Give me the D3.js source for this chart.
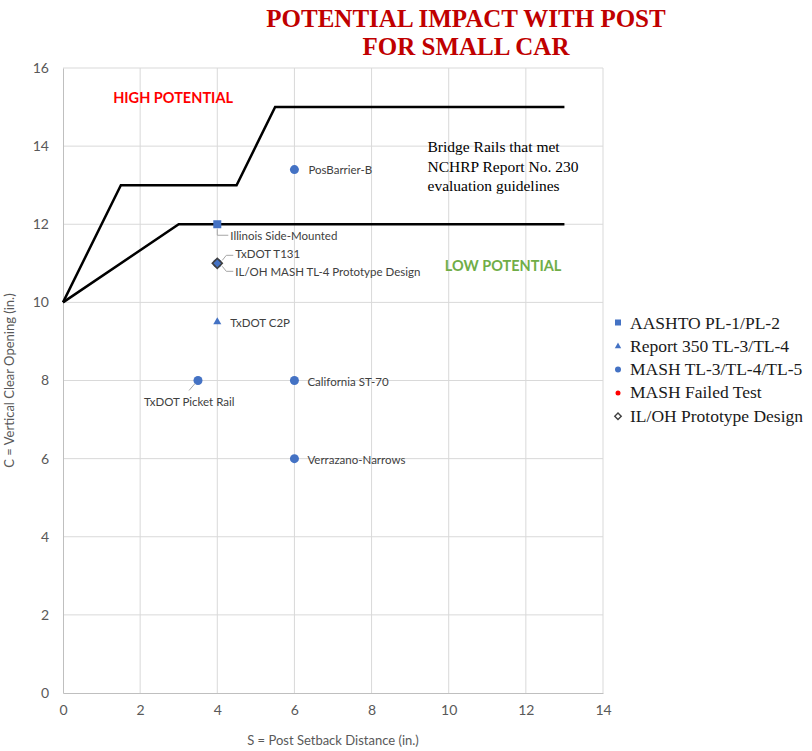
<!DOCTYPE html>
<html>
<head>
<meta charset="utf-8">
<script src="https://cdn.jsdelivr.net/npm/d3@7"></script>
<style>
  body { margin: 0; background: #fff; }
  text { font-family: Lato, "Open Sans", sans-serif; }
</style>
</head>
<body>
<div id="chart"></div>
<script>
// boundary lines
var upperLine = [[0, 10], [1.5, 13], [4.5, 13], [5.5, 15], [13, 15]];
var lowerLine = [[0, 10], [3, 12], [13, 12]];

// points per series
var aashto = [{x: 4, y: 12, label: "Illinois Side-Mounted"}];
var report350 = [{x: 4, y: 9.5, label: "TxDOT C2P"}];
var mash = [
  {x: 6, y: 13.4, label: "PosBarrier-B"},
  {x: 4, y: 11, label: "TxDOT T131"},
  {x: 3.5, y: 8, label: "TxDOT Picket Rail"},
  {x: 6, y: 8, label: "California ST-70"},
  {x: 6, y: 6, label: "Verrazano-Narrows"}
];
var mashFailed = [];
var prototype = [{x: 4, y: 11, label: "IL/OH MASH TL-4 Prototype Design"}];

var legendNames = ["AASHTO PL-1/PL-2", "Report 350 TL-3/TL-4", "MASH TL-3/TL-4/TL-5", "MASH Failed Test", "IL/OH Prototype Design"];
var xTicks = [0, 2, 4, 6, 8, 10, 12, 14];
var yTicks = [0, 2, 4, 6, 8, 10, 12, 14, 16];

var W = 812, H = 751;
var margin = {top: 68, right: 209, bottom: 58, left: 63};
var width = W - margin.left - margin.right;
var height = H - margin.top - margin.bottom;
var serif = "'Liberation Serif', 'Times New Roman', serif";

var svg = d3.select("#chart").append("svg").attr("width", W).attr("height", H);

svg.append("text").attr("x", 466).attr("y", 27).attr("text-anchor", "middle")
   .style("font-family", serif).style("font-weight", "bold")
   .style("font-size", "25px").style("fill", "#c00000").text("POTENTIAL IMPACT WITH POST");
svg.append("text").attr("x", 466).attr("y", 55).attr("text-anchor", "middle")
   .style("font-family", serif).style("font-weight", "bold")
   .style("font-size", "25px").style("fill", "#c00000").text("FOR SMALL CAR");

var g = svg.append("g").attr("transform", "translate(" + margin.left + "," + margin.top + ")");

var x = d3.scaleLinear().domain([0, 14]).range([0, width]);
var y = d3.scaleLinear().domain([0, 16]).range([height, 0]);

// grid
g.append("g").selectAll("line").data(xTicks.slice(1)).enter().append("line")
 .attr("x1", d => x(d)).attr("x2", d => x(d)).attr("y1", 0).attr("y2", height)
 .attr("stroke", "#d9d9d9").attr("stroke-width", 1);
g.append("g").selectAll("line").data(yTicks.slice(1)).enter().append("line")
 .attr("x1", 0).attr("x2", width).attr("y1", d => y(d)).attr("y2", d => y(d))
 .attr("stroke", "#d9d9d9").attr("stroke-width", 1);

var xAxis = g.append("g").attr("transform", "translate(0," + height + ")")
  .call(d3.axisBottom(x).tickValues(xTicks).tickSize(0).tickPadding(12));
var yAxis = g.append("g").call(d3.axisLeft(y).tickValues(yTicks).tickSize(0).tickPadding(14));
[xAxis, yAxis].forEach(function(a) {
  a.select(".domain").attr("stroke", "#bfbfbf");
  a.selectAll("text").style("font-size", "14px").style("fill", "#595959");
});

svg.append("text").attr("x", margin.left + width / 2).attr("y", 745).attr("text-anchor", "middle")
   .style("font-size", "13px").style("fill", "#595959").text("S = Post Setback Distance (in.)");
svg.append("text").attr("transform", "translate(14," + (margin.top + height / 2) + ") rotate(-90)")
   .attr("text-anchor", "middle").style("font-size", "13px").style("fill", "#595959")
   .text("C = Vertical Clear Opening (in.)");

// boundary lines
var line = d3.line().x(d => x(d[0])).y(d => y(d[1]));
[upperLine, lowerLine].forEach(function(l) {
  g.append("path").datum(l).attr("d", line).attr("fill", "none")
   .attr("stroke", "#000").attr("stroke-width", 2.5);
});

// region text
g.append("text").attr("x", x(1.3)).attr("y", y(15.1)).style("font-weight", "bold")
 .style("font-size", "14.5px").style("fill", "#ff0000").text("HIGH POTENTIAL");
g.append("text").attr("x", x(9.9)).attr("y", y(10.8)).style("font-weight", "bold")
 .style("font-size", "14.5px").style("fill", "#70ad47").text("LOW POTENTIAL");
var note = g.append("text").style("font-family", serif)
  .style("font-size", "15.5px").style("fill", "#000");
["Bridge Rails that met", "NCHRP Report No. 230", "evaluation guidelines"].forEach(function(t, i) {
  note.append("tspan").attr("x", x(9.45)).attr("y", y(13.84) + i * 19.5).text(t);
});

var blue = "#4472c4";

// markers
g.selectAll(".sq").data(aashto).enter().append("rect")
 .attr("x", d => x(d.x) - 4).attr("y", d => y(d.y) - 4).attr("width", 8).attr("height", 8).attr("fill", blue);
g.selectAll(".tri").data(report350).enter().append("path")
 .attr("transform", d => "translate(" + x(d.x) + "," + y(d.y) + ")")
 .attr("d", d3.symbol(d3.symbolTriangle, 28)).attr("fill", blue);
g.selectAll(".mash").data(mash).enter().append("circle")
 .attr("cx", d => x(d.x)).attr("cy", d => y(d.y)).attr("r", 4.5).attr("fill", blue);
g.selectAll(".fail").data(mashFailed).enter().append("circle")
 .attr("cx", d => x(d.x)).attr("cy", d => y(d.y)).attr("r", 4.5).attr("fill", "red");
g.selectAll(".proto").data(prototype).enter().append("path")
 .attr("transform", d => "translate(" + x(d.x) + "," + y(d.y) + ") rotate(45)")
 .attr("d", "M-3.5,-3.5H3.5V3.5H-3.5Z").attr("fill", "none").attr("stroke", "#404040").attr("stroke-width", 1.6);

// data labels with optional leader lines
var labelStyle = function(sel) { sel.style("font-size", "11.5px").style("fill", "#404040"); };
function label(d, dx, dy, leader) {
  var px = x(d.x), py = y(d.y);
  g.append("text").attr("x", px + dx).attr("y", py + dy).call(labelStyle).text(d.label);
  if (leader) {
    g.append("path").attr("d", "M" + leader.map(p => (px + p[0]) + "," + (py + p[1])).join("L"))
     .attr("fill", "none").attr("stroke", "#a6a6a6").attr("stroke-width", 1);
  }
}
label(mash[0], 14, 4);
label(aashto[0], 13, 16, [[0, 5], [0, 11], [11, 11]]);
label(mash[1], 18, -5, [[5, -3], [9, -8], [16, -8]]);
label(prototype[0], 18, 13, [[5, 3], [9, 8], [16, 8]]);
label(report350[0], 13, 5);
label(mash[2], -54, 25, [[-3, 3], [-9, 10]]);
label(mash[3], 13, 5);
label(mash[4], 13, 5);

// legend
var legend = svg.append("g").attr("transform", "translate(618,323)");
var lg = legend.selectAll("g").data(legendNames).enter().append("g")
  .attr("transform", (d, i) => "translate(0," + (i * 23.3) + ")");
lg.append("text").attr("x", 12).attr("y", 5.5)
  .style("font-family", serif).style("font-size", "17.5px")
  .style("fill", "#1a1a1a").text(d => d);
lg.each(function(d, i) {
  var s = d3.select(this);
  if (i == 0) s.append("rect").attr("x", -3).attr("y", -3.5).attr("width", 6).attr("height", 6).attr("fill", blue);
  if (i == 1) s.append("path").attr("d", d3.symbol(d3.symbolTriangle, 18)).attr("fill", blue);
  if (i == 2) s.append("circle").attr("r", 3).attr("fill", blue);
  if (i == 3) s.append("circle").attr("r", 2.5).attr("fill", "red");
  if (i == 4) s.append("path").attr("transform", "rotate(45)").attr("d", "M-2.3,-2.3H2.3V2.3H-2.3Z")
    .attr("fill", "none").attr("stroke", "#404040").attr("stroke-width", 1.4);
});
</script>
</body>
</html>
